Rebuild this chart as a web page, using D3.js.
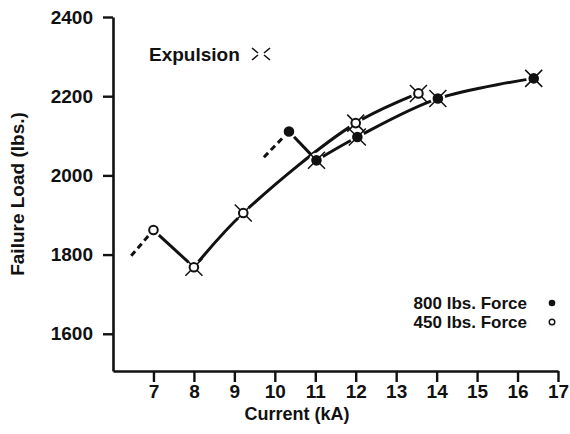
<!DOCTYPE html>
<html>
<head>
<meta charset="utf-8">
<script src="https://cdn.jsdelivr.net/npm/d3@7"></script>
<style>
  body { margin: 0; background: #fff; }
  svg { display: block; }
  text { font-family: "Liberation Sans", Arial, sans-serif; font-weight: bold; fill: #111; }
</style>
</head>
<body>
<svg width="570" height="434"></svg>
<script>
// values
const xTicks = [7, 8, 9, 10, 11, 12, 13, 14, 15, 16, 17];
const yTicks = [1600, 1800, 2000, 2200, 2400];

const current450 = [7, 8, 9.22, 12, 13.55];
const load450 = [1862, 1768, 1905, 2132, 2207];
const expulsion450 = [false, true, true, true, true];
const lead450 = [[6.45, 1797], [7, 1862]];

const current800 = [10.35, 11.03, 12.04, 14.03, 16.4];
const load800 = [2111, 2038, 2097, 2194, 2245];
const expulsion800 = [false, true, true, true, true];
const lead800 = [[9.73, 2046], [10.35, 2111]];

const ink = '#111';
const svg = d3.select('svg');

const x = d3.scaleLinear().domain([6, 17]).range([113, 558]);
const y = d3.scaleLinear().domain([1506, 2400]).range([371, 17]);

// axes
const xAxis = svg.append('g')
  .attr('transform', `translate(0,${y(1506)})`)
  .call(d3.axisBottom(x).tickValues(xTicks).tickFormat(d3.format('d'))
    .tickSize(11).tickPadding(3).tickSizeOuter(0));
const yAxis = svg.append('g')
  .attr('transform', `translate(${x(6)},0)`)
  .call(d3.axisLeft(y).tickValues(yTicks).tickFormat(d3.format('d'))
    .tickSize(10).tickPadding(10).tickSizeOuter(0));

[xAxis, yAxis].forEach(g => {
  g.select('.domain').attr('stroke', ink).attr('stroke-width', 2.6);
  g.selectAll('.tick line').attr('stroke', ink).attr('stroke-width', 2.4);
  g.selectAll('.tick text')
    .attr('fill', ink)
    .style('font-size', '19px')
    .style('font-family', '"Liberation Sans", Arial, sans-serif')
    .style('font-weight', 'bold');
});

svg.append('text')
  .attr('x', 297).attr('y', 420)
  .attr('text-anchor', 'middle')
  .style('font-size', '18px')
  .text('Current (kA)');

svg.append('text')
  .attr('transform', 'translate(24,194) rotate(-90)')
  .attr('text-anchor', 'middle')
  .style('font-size', '19px')
  .text('Failure Load (lbs.)');

// series lines
function drawSeries(xs, ys, lead) {
  const pts = xs.map((d, i) => [x(d), y(ys[i])]);
  svg.append('path')
    .attr('d', d3.line()(lead.map(p => [x(p[0]), y(p[1])])))
    .attr('fill', 'none').attr('stroke', ink).attr('stroke-width', 3)
    .attr('stroke-dasharray', '6,4');
  svg.append('path')
    .attr('d', d3.line()(pts.slice(0, 2)))
    .attr('fill', 'none').attr('stroke', ink).attr('stroke-width', 3);
  svg.append('path')
    .attr('d', d3.line().curve(d3.curveCatmullRom.alpha(0.5))(pts.slice(1)))
    .attr('fill', 'none').attr('stroke', ink).attr('stroke-width', 3);
}
drawSeries(current450, load450, lead450);
drawSeries(current800, load800, lead800);

// markers, each with a white gap around it
function drawMarkers(xs, ys, exps, filled) {
  const g = svg.append('g');
  const pts = xs.map((d, i) => ({ cx: x(d), cy: y(ys[i]), exp: exps[i] }));
  g.selectAll('.halo').data(pts).enter().append('circle')
    .attr('cx', d => d.cx).attr('cy', d => d.cy).attr('r', 7.5)
    .attr('fill', '#fff');
  pts.filter(d => d.exp).forEach(d => {
    const s = 8.5;
    g.append('path')
      .attr('d', `M${d.cx - s},${d.cy - s}L${d.cx + s},${d.cy + s}M${d.cx - s},${d.cy + s}L${d.cx + s},${d.cy - s}`)
      .attr('stroke', ink).attr('stroke-width', 1.5);
  });
  g.selectAll('.dot').data(pts).enter().append('circle')
    .attr('cx', d => d.cx).attr('cy', d => d.cy).attr('r', 4.3)
    .attr('fill', filled ? ink : '#fff')
    .attr('stroke', ink).attr('stroke-width', 2);
}
drawMarkers(current450, load450, expulsion450, false);
drawMarkers(current800, load800, expulsion800, true);

// expulsion note
svg.append('text')
  .attr('x', 149).attr('y', 61)
  .style('font-size', '19px')
  .text('Expulsion');
{
  const cx = 261, cy = 54;
  svg.append('path')
    .attr('d', `M${cx - 9},${cy - 6}L${cx - 3},${cy - 1}M${cx + 9},${cy - 6}L${cx + 3},${cy - 1}` +
      `M${cx - 9},${cy + 6}L${cx - 3},${cy + 1}M${cx + 9},${cy + 6}L${cx + 3},${cy + 1}`)
    .attr('stroke', ink).attr('stroke-width', 1.6);
}

// legend
const legendLabels = ['800 lbs. Force', '450 lbs. Force'];
const legendFilled = [true, false];
legendLabels.forEach((label, i) => {
  const ly = 303 + i * 19;
  svg.append('text')
    .attr('x', 527).attr('y', ly + 6)
    .attr('text-anchor', 'end')
    .style('font-size', '17px')
    .text(label);
  svg.append('circle')
    .attr('cx', 552).attr('cy', ly).attr('r', legendFilled[i] ? 3.3 : 2.8)
    .attr('fill', legendFilled[i] ? ink : '#fff')
    .attr('stroke', ink).attr('stroke-width', legendFilled[i] ? 0 : 1.4);
});
</script>
</body>
</html>
